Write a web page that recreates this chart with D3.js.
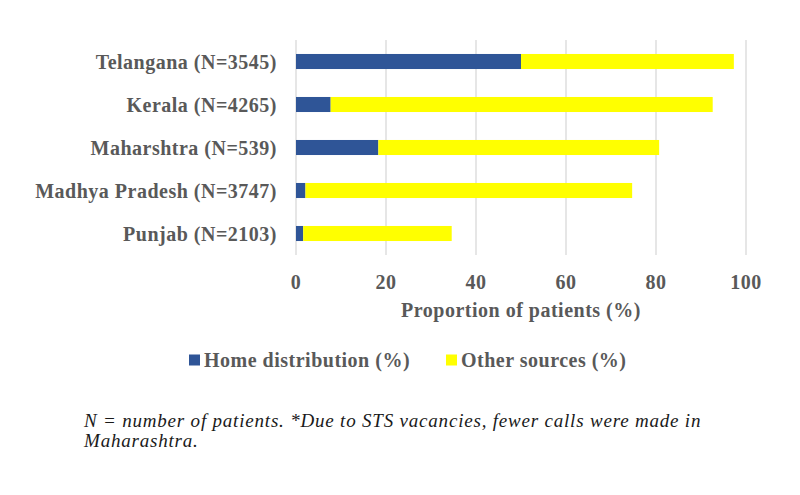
<!DOCTYPE html>
<html><head><meta charset="utf-8">
<script src="https://cdn.jsdelivr.net/npm/d3@7"></script>
<style>body{margin:0;background:#fff}svg{display:block}</style>
</head><body>
<svg id="c" width="800" height="495"></svg>
<script>
const categories = ["Telangana (N=3545)","Kerala (N=4265)","Maharshtra (N=539)","Madhya Pradesh (N=3747)","Punjab (N=2103)"];
const homeDistribution = [50.0, 7.7, 18.3, 2.1, 1.6];
const otherSources = [47.3, 84.9, 62.4, 72.6, 33.0];
const seriesNames = ["Home distribution (%)","Other sources (%)"];
const xTicks = [0,20,40,60,80,100];
const axisTitle = "Proportion of patients (%)";
const footnote = ["N = number of patients. *Due to STS vacancies, fewer calls were made in","Maharashtra."];

(function(){
const colors = ["#2F5597","#FFFF00"];
const svg = d3.select("#c");
const pL = 296, pR = 746, pT = 40, pB = 255;
const x = d3.scaleLinear().domain([0,100]).range([pL,pR]);
const y = d3.scaleBand().domain(categories).range([pT,pB]).paddingInner(0.65).paddingOuter(0.325);

svg.append("g").selectAll("line").data(xTicks).join("line")
  .attr("x1",d=>x(d)).attr("x2",d=>x(d)).attr("y1",pT).attr("y2",pB)
  .attr("stroke","#d9d9d9").attr("stroke-width",1.3);

const data = categories.map((c,i)=>({c, h:homeDistribution[i], o:otherSources[i]}));
const stack = d3.stack().keys(["h","o"])(data);
svg.append("g").selectAll("g").data(stack).join("g").attr("fill",(d,i)=>colors[i])
  .selectAll("rect").data(d=>d).join("rect")
  .attr("x",d=>x(d[0])).attr("width",d=>x(d[1])-x(d[0]))
  .attr("y",d=>y(d.data.c)).attr("height",y.bandwidth());

const serif = "'Liberation Serif','DejaVu Serif',serif";
function lab(sel){ return sel.attr("font-family",serif).attr("font-weight","bold")
  .attr("font-size",20).attr("letter-spacing",0.5).attr("fill","#595959"); }

lab(svg.append("g").selectAll("text").data(categories).join("text")
  .attr("x",277).attr("y",d=>y(d)+y.bandwidth()/2).attr("dy","0.35em")
  .attr("text-anchor","end")).text(d=>d);

lab(svg.append("g").selectAll("text").data(xTicks).join("text")
  .attr("x",d=>x(d)).attr("y",282).attr("dy","0.35em").attr("text-anchor","middle")).text(d=>d);

lab(svg.append("text").attr("x",(pL+pR)/2).attr("y",310).attr("dy","0.35em").attr("text-anchor","middle")).text(axisTitle);

const legX = [189, 446];
const lg = svg.append("g").selectAll("g").data(seriesNames).join("g")
  .attr("transform",(d,i)=>`translate(${legX[i]},360)`);
lg.append("rect").attr("x",0).attr("y",-5.5).attr("width",11).attr("height",11).attr("fill",(d,i)=>colors[i]);
lab(lg.append("text").attr("x",15).attr("dy","0.35em")).text(d=>d);

svg.append("g").selectAll("text").data(footnote).join("text")
  .attr("x",84).attr("y",(d,i)=>427+i*20)
  .attr("font-family",serif).attr("font-style","italic").attr("font-size",19)
  .attr("letter-spacing",0.8).attr("fill","#1a1a1a").text(d=>d);
})();
</script>
</body></html>
